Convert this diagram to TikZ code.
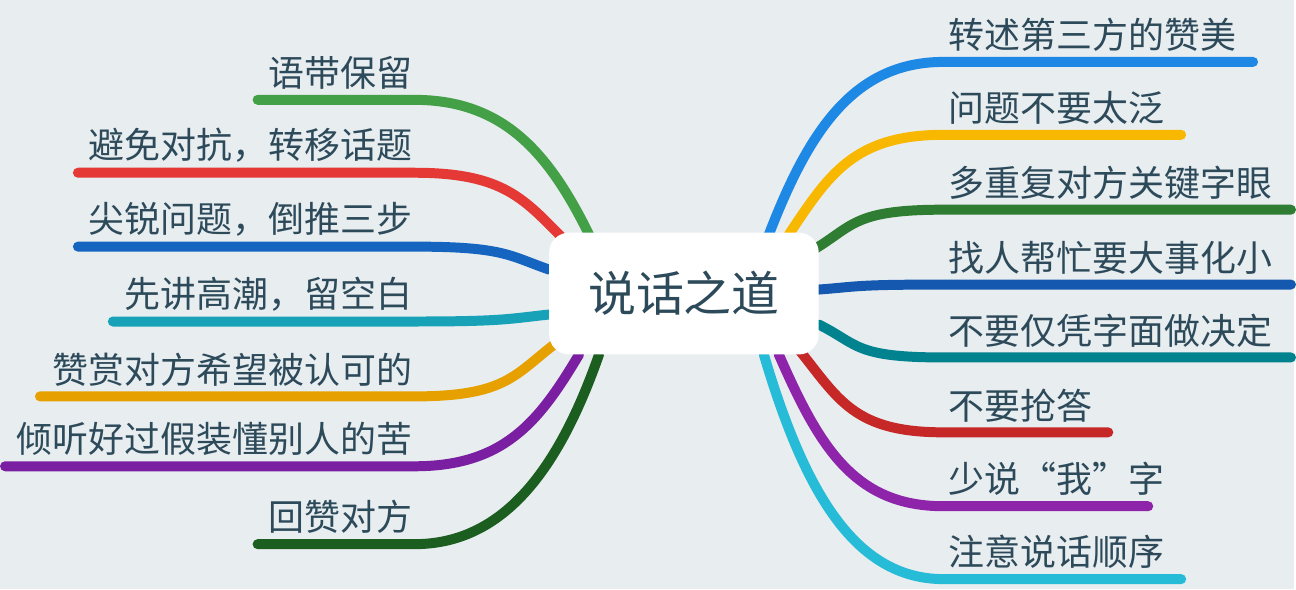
\documentclass[tikz,border=0pt]{standalone}
\usepackage{fontspec}
\setmainfont{Noto Sans CJK SC}
\usetikzlibrary{positioning}
\definecolor{bgcol}{HTML}{E8EDF0}
\definecolor{txtcol}{HTML}{2D4A5A}
\definecolor{cA}{HTML}{1E88E5}
\definecolor{cB}{HTML}{F9B800}
\definecolor{cC}{HTML}{2E7D32}
\definecolor{cD}{HTML}{1558B0}
\definecolor{cE}{HTML}{00838F}
\definecolor{cF}{HTML}{C62828}
\definecolor{cG}{HTML}{8E24AA}
\definecolor{cH}{HTML}{26BCD7}
\definecolor{lA}{HTML}{43A047}
\definecolor{lB}{HTML}{E53935}
\definecolor{lC}{HTML}{1565C0}
\definecolor{lD}{HTML}{17A2B8}
\definecolor{lE}{HTML}{E6A100}
\definecolor{lF}{HTML}{7B1FA2}
\definecolor{lG}{HTML}{1B5E20}
\tikzset{
  branch/.style={line width=5pt, line cap=round},
  label/.style={inner sep=0pt, font=\fontsize{18}{18}\selectfont, text=txtcol},
  root/.style={fill=white, rounded corners=10pt, minimum width=135pt, minimum height=61pt,
    font=\fontsize{24}{24}\selectfont, text=txtcol}
}
\begin{document}
\begin{tikzpicture}[x=0.5pt,y=-0.5pt]
   \fill[bgcol] (0,0) rectangle (1296,590);

   % right side
   \foreach \sx/\sy/\y/\ex/\c/\t [count=\i] in {
     770/235/62/1255/cA/转述第三方的赞美,
     790/235/135/1183/cB/问题不要太泛,
     815/250/210/1293/cC/多重复对方关键字眼,
     820/290/285/1293/cD/找人帮忙要大事化小,
     820/325/358/1293/cE/不要仅凭字面做决定,
     800/350/433/1110/cF/不要抢答,
     780/355/507/1150/cG/少说“我”字,
     765/355/580/1183/cH/注意说话顺序}{
     \coordinate (rs\i) at (\sx,\sy);
     \coordinate (rm\i) at (945,\y);
     \coordinate (re\i) at (\ex,\y);
     \pgfmathsetmacro\dy{0.6*(\y-\sy)}
     \draw[branch, \c] (rs\i) .. controls +(40,\dy) and +(-90,0) .. (rm\i) -- (re\i);
     \node[label, anchor=south west] (r\i) at (950,\y-10) {\t};
   }

   % left side
   \foreach \sx/\sy/\y/\ex/\c/\t [count=\i] in {
     590/235/100/258/lA/语带保留,
     565/240/173/78/lB/避免对抗，转移话题,
     550/270/247/78/lC/尖锐问题，倒推三步,
     550/315/322/113/lD/先讲高潮，留空白,
     555/345/397/40/lE/赞赏对方希望被认可的,
     580/355/467/5/lF/倾听好过假装懂别人的苦,
     600/355/545/258/lG/回赞对方}{
     \coordinate (ls\i) at (\sx,\sy);
     \coordinate (lm\i) at (415,\y);
     \coordinate (le\i) at (\ex,\y);
     \pgfmathsetmacro\dy{0.6*(\y-\sy)}
     \draw[branch, \c] (ls\i) .. controls +(-40,\dy) and +(90,0) .. (lm\i) -- (le\i);
     \node[label, anchor=south east] (l\i) at (413,\y-10) {\t};
   }

   \node[root] (center) at (685,294) {说话之道};
\end{tikzpicture}
\end{document}
